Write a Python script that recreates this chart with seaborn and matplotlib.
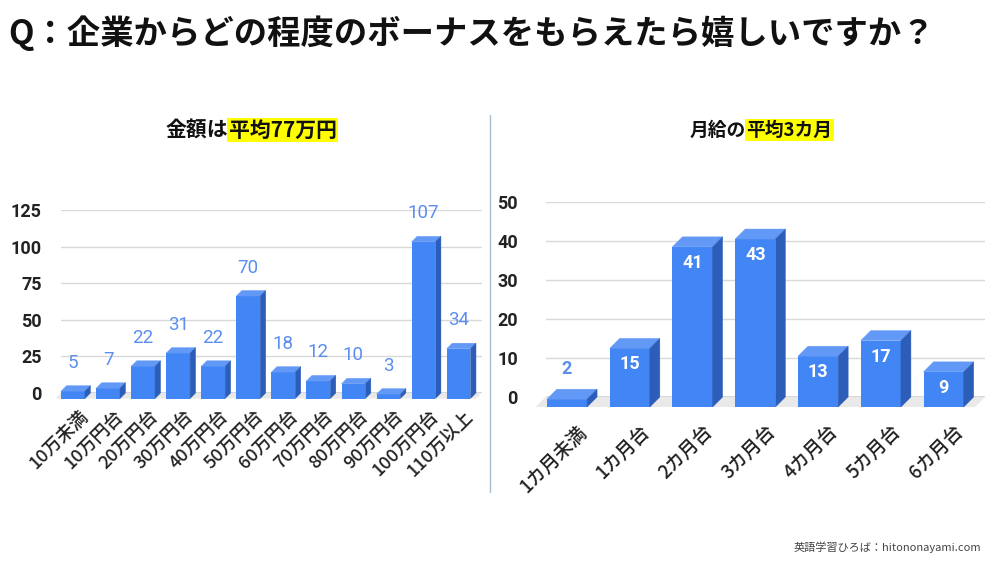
import matplotlib
matplotlib.use("Agg")
import matplotlib.pyplot as plt
from matplotlib.patches import Polygon
from matplotlib.lines import Line2D
import seaborn as sns

title = "Q：企業からどの程度のボーナスをもらえたら嬉しいですか？"
credit = "英語学習ひろば：hitononayami.com"

amount_cats = ["10万未満", "10万円台", "20万円台", "30万円台", "40万円台", "50万円台",
               "60万円台", "70万円台", "80万円台", "90万円台", "100万円台", "110万以上"]
amount_vals = [5, 7, 22, 31, 22, 70, 18, 12, 10, 3, 107, 34]
amount_ticks = [0, 25, 50, 75, 100, 125]
amount_head = ["金額は", "平均77万円"]

month_cats = ["1カ月未満", "1カ月台", "2カ月台", "3カ月台", "4カ月台", "5カ月台", "6カ月台"]
month_vals = [2, 15, 41, 43, 13, 17, 9]
month_ticks = [0, 10, 20, 30, 40, 50]
month_head = ["月給の", "平均3カ月"]

FRONT = "#4285F4"
TOP = "#6399F6"
SIDE = "#2C5DB8"
LABEL = "#5B8EEE"

sns.set_theme(style="white")
plt.rcParams["font.family"] = ["Noto Sans CJK JP", "DejaVu Sans"]
NUM = ["Roboto", "Noto Sans CJK JP"]

fig = plt.figure(figsize=(10, 5.63), dpi=100)
W, H = 1000, 563


def px_axes(left, right, y0, ytop):
    return fig.add_axes([left / W, 1 - y0 / H, (right - left) / W, (y0 - ytop) / H])


def panel(ax, cats, vals, ticks, depth, width, inside, xpad, ypad, xsize):
    sns.barplot(x=cats, y=vals, ax=ax, color=FRONT, saturation=1, width=width,
                errorbar=None, zorder=3, linewidth=0)
    ax.set_xlim(-0.5, len(cats) - 0.5)
    ax.set_ylim(ticks[0], ticks[-1])
    ax.set_yticks(ticks)
    ax.set_yticklabels([str(t) for t in ticks], fontsize=13, weight="bold",
                       family=NUM, color="#222222")
    ax.set_xticks(range(len(cats)))
    ax.set_xticklabels(cats, rotation=45, ha="right", rotation_mode="anchor",
                       fontsize=xsize, weight="medium", color="#222222")
    ax.tick_params(axis="x", length=0, pad=xpad)
    ax.tick_params(axis="y", length=0, pad=ypad)
    ax.set_xlabel("")
    ax.set_ylabel("")
    for s in ax.spines.values():
        s.set_visible(False)
    ax.grid(axis="y", color="#d9d9d9", lw=1)
    ax.set_axisbelow(True)
    ax.axhline(0, color="#555555", lw=1, zorder=2)

    p0 = ax.transData.transform((0, 0))
    p1 = ax.transData.transform((1, 1))
    dx = depth / (p1[0] - p0[0])
    dy = depth / (p1[1] - p0[1])

    x0, x1 = ax.get_xlim()
    ax.add_patch(Polygon([(x0, 0), (x1, 0), (x1 - dx, -dy), (x0 - dx, -dy)],
                         closed=True, fc="#e9e9e9", ec="none", zorder=1, clip_on=False))

    for bar, v in zip(list(ax.patches)[:len(vals)], vals):
        x, w, h = bar.get_x(), bar.get_width(), bar.get_height()
        bar.set_x(x - dx)
        bar.set_y(-dy)
        bar.set_clip_on(False)
        ax.add_patch(Polygon([(x - dx, h - dy), (x + w - dx, h - dy), (x + w, h), (x, h)],
                             closed=True, fc=TOP, ec=TOP, lw=0.3, zorder=3, clip_on=False))
        ax.add_patch(Polygon([(x + w - dx, -dy), (x + w, 0), (x + w, h), (x + w - dx, h - dy)],
                             closed=True, fc=SIDE, ec=SIDE, lw=0.3, zorder=3, clip_on=False))
        cx = x + w / 2 - dx
        hpx = v * (p1[1] - p0[1])
        if inside and hpx > 35:
            ax.annotate(str(v), xy=(cx, v), xytext=(0, -(depth + 16) * 0.72),
                        textcoords="offset points", ha="center", va="center",
                        color="white", fontsize=13, weight="bold", family=NUM, zorder=5)
        elif inside:
            ax.annotate(str(v), xy=(cx, v), xytext=(0, 20 * 0.72),
                        textcoords="offset points", ha="center", va="center",
                        color=LABEL, fontsize=13, weight="bold", family=NUM, zorder=5)
        else:
            ax.annotate(str(v), xy=(cx, v), xytext=(0, 23 * 0.72),
                        textcoords="offset points", ha="center", va="center",
                        color=LABEL, fontsize=13.5, family=NUM, zorder=5)


ax1 = px_axes(61, 481.6, 393, 210)
panel(ax1, amount_cats, amount_vals, amount_ticks, 5.5, 0.68, False, 10, 14, 13)

ax2 = px_axes(545.6, 985, 397, 201.7)
panel(ax2, month_cats, month_vals, month_ticks, 10, 0.64, True, 18, 20, 13.5)

fig.text(8 / W, 1 - 33 / H, title, fontsize=24, weight="bold", va="center", color="#111111")


def heading(xpx, parts, size):
    t1 = fig.text(xpx / W, 1 - 130 / H, parts[0], fontsize=size, weight="bold",
                  va="center", ha="left", color="#111111")
    ax1.annotate(parts[1], xy=(1, 0.5), xycoords=t1, va="center", ha="left",
                 fontsize=size, weight="bold", color="#111111", annotation_clip=False,
                 bbox=dict(boxstyle="square,pad=0.08", fc="#FFFF00", ec="none"))


heading(166, amount_head, 15)
heading(690, month_head, 13.5)

fig.add_artist(Line2D([490 / W, 490 / W], [1 - 115 / H, 1 - 492 / H], color="#a9bccc", lw=1))

fig.text(981 / W, 1 - 547 / H, credit, fontsize=8, ha="right", va="center", color="#444444")

fig.savefig("out.png", dpi=100, facecolor="white")
